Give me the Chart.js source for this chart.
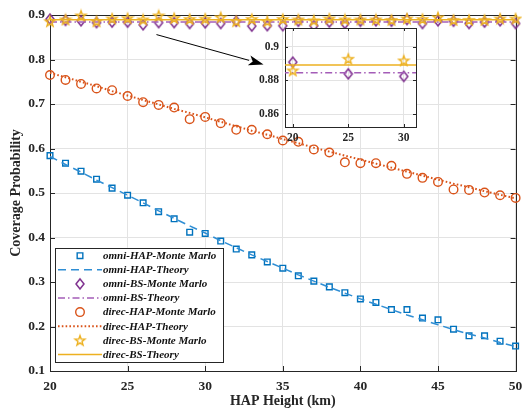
<!DOCTYPE html>
<html><head><meta charset="utf-8">
<script src="https://cdn.jsdelivr.net/npm/chart.js@4/dist/chart.umd.min.js"></script>
<style>
html,body{margin:0;padding:0;background:#fff;}
#wrap{position:relative;width:522px;height:410px;overflow:hidden;}
#main{position:absolute;left:0;top:0;}
#inset{position:absolute;left:250px;top:18px;}
</style></head><body>
<div id="wrap">
<canvas id="main" width="522" height="410"></canvas>
<canvas id="inset" width="175" height="128"></canvas>
</div>
<script>
// ---------- data ----------
const heights = [20,21,22,23,24,25,26,27,28,29,30,31,32,33,34,35,36,37,38,39,40,41,42,43,44,45,46,47,48,49,50];
const omniHapMC = [0.584,0.567,0.549,0.531,0.511,0.495,0.478,0.458,0.442,0.412,0.409,0.392,0.374,0.361,0.345,0.331,0.314,0.302,0.289,0.276,0.262,0.254,0.238,0.238,0.219,0.215,0.194,0.179,0.179,0.167,0.156];
const omniHapTh = [0.582,0.564,0.547,0.529,0.512,0.495,0.478,0.460,0.443,0.426,0.410,0.393,0.377,0.361,0.346,0.331,0.316,0.302,0.288,0.275,0.262,0.250,0.238,0.226,0.215,0.204,0.193,0.183,0.174,0.164,0.155];
const omniBsMC = [0.8908,0.888,0.887,0.883,0.884,0.8839,0.878,0.883,0.883,0.881,0.8824,0.881,0.886,0.875,0.876,0.876,0.886,0.876,0.884,0.881,0.886,0.887,0.886,0.890,0.881,0.887,0.886,0.881,0.884,0.887,0.881];
const omniBsTh = [0.8845,0.8845,0.8845,0.8845,0.8845,0.8845,0.8845,0.8845,0.8845,0.8845,0.8845,0.8845,0.8845,0.8845,0.8845,0.8845,0.8845,0.8845,0.8845,0.8845,0.8845,0.8845,0.8845,0.8845,0.8845,0.8845,0.8845,0.8845,0.8845,0.8845,0.8845];
const direcHapMC = [0.765,0.754,0.745,0.735,0.731,0.718,0.704,0.698,0.692,0.666,0.671,0.657,0.642,0.642,0.632,0.618,0.615,0.598,0.591,0.569,0.567,0.567,0.561,0.543,0.534,0.525,0.508,0.507,0.501,0.495,0.489];
const direcHapTh = [0.770,0.760,0.750,0.740,0.729,0.719,0.709,0.699,0.689,0.680,0.670,0.660,0.650,0.640,0.631,0.621,0.612,0.602,0.593,0.584,0.575,0.566,0.557,0.548,0.539,0.530,0.521,0.513,0.504,0.496,0.488];
const direcBsMC = [0.8859,0.890,0.899,0.886,0.892,0.8928,0.890,0.899,0.893,0.891,0.8918,0.895,0.886,0.891,0.886,0.891,0.890,0.888,0.892,0.890,0.890,0.890,0.889,0.892,0.891,0.895,0.889,0.889,0.889,0.892,0.892];
const direcBsTh = [0.8892,0.8892,0.8892,0.8892,0.8892,0.8892,0.8892,0.8892,0.8892,0.8892,0.8892,0.8892,0.8892,0.8892,0.8892,0.8892,0.8892,0.8892,0.8892,0.8892,0.8892,0.8892,0.8892,0.8892,0.8892,0.8892,0.8892,0.8892,0.8892,0.8892,0.8892];

const seriesLabels = ['omni-HAP-Monte Marlo','omni-HAP-Theory','omni-BS-Monte Marlo','omni-BS-Theory','direc-HAP-Monte Marlo','direc-HAP-Theory','direc-BS-Monte Marlo','direc-BS-Theory'];
const xTicks = [20,25,30,35,40,45,50];
const yTicks = [0.1,0.2,0.3,0.4,0.5,0.6,0.7,0.8,0.9];
const xTitle = 'HAP Height (km)';
const yTitle = 'Coverage Probability';

// inset (zoomed) data
const insetHeights = [20,25,30];
const insetOmniBsMC = [0.8908,0.8839,0.8824];
const insetDirecBsMC = [0.8859,0.8928,0.8918];
const insetLineHeights = [19,32];
const insetOmniBsTh = [0.8845,0.8845];
const insetDirecBsTh = [0.8892,0.8892];
const insetXTicks = [20,25,30];
const insetYTicks = [0.86,0.88,0.9];

// arrow annotation (data coords)
const arrowFrom = [26.86,0.856];
const arrowTo = [33.76,0.789];

// ---------- styles ----------
const FONT = "'Liberation Serif','Times New Roman',serif";
const AX = '#262626';
const GRID = '#e3e3e3';
const BLUE = '#0072BD', BLUE_L = '#2F8ED4';
const PURP = '#7E2F8E', PURP_L = '#A45DB8';
const ORNG = '#D95319';
const GOLD = '#EDB120';

function makeDiamond(color){
  const c=document.createElement('canvas'); c.width=12; c.height=14;
  const g=c.getContext('2d'); g.strokeStyle=color; g.lineWidth=1.5; g.lineJoin='miter';
  g.beginPath(); g.moveTo(6,2); g.lineTo(10,7); g.lineTo(6,12); g.lineTo(2,7); g.closePath(); g.stroke();
  return c;
}
function makeStar(color){
  const c=document.createElement('canvas'); c.width=14; c.height=14;
  const g=c.getContext('2d'); g.strokeStyle=color; g.lineWidth=1.4; g.lineJoin='miter';
  const cx=7, cy=7.5, R=5.2, r=2.1;
  g.beginPath();
  for(let i=0;i<10;i++){
    const a=-Math.PI/2+i*Math.PI/5, rr=(i%2===0)?R:r;
    const px=cx+rr*Math.cos(a), py=cy+rr*Math.sin(a);
    if(i===0) g.moveTo(px,py); else g.lineTo(px,py);
  }
  g.closePath(); g.stroke();
  return c;
}
const diamond = makeDiamond(PURP);
const star = makeStar(GOLD);

const pts = (xs,ys)=>xs.map((x,i)=>({x:x,y:ys[i]}));
function mcSet(label,xs,ys,color,style,radius,order){
  return {label,data:pts(xs,ys),showLine:false,borderColor:color,backgroundColor:'rgba(0,0,0,0)',
    pointStyle:style,pointRadius:radius,pointBorderWidth:1.4,pointBorderColor:color,pointBackgroundColor:'rgba(0,0,0,0)',
    clip:false,order,legendKind:'marker'};
}
function lineSet(label,xs,ys,color,dash,width,order){
  return {label,data:pts(xs,ys),showLine:true,borderColor:color,borderWidth:width,borderDash:dash,
    pointRadius:0,tension:0,clip:false,order,legendKind:'line',fill:false};
}

const mainDatasets = [
  mcSet(seriesLabels[0],heights,omniHapMC,BLUE,'rect',4.0,7),
  lineSet(seriesLabels[1],heights,omniHapTh,BLUE_L,[8,5],1.5,6),
  mcSet(seriesLabels[2],heights,omniBsMC,PURP,diamond,5,5),
  lineSet(seriesLabels[3],heights,omniBsTh,PURP_L,[7,3,1.5,3],1.5,4),
  mcSet(seriesLabels[4],heights,direcHapMC,ORNG,'circle',4.3,3),
  lineSet(seriesLabels[5],heights,direcHapTh,ORNG,[1.6,2.2],2,2),
  mcSet(seriesLabels[6],heights,direcBsMC,GOLD,star,5,1),
  lineSet(seriesLabels[7],heights,direcBsTh,GOLD,[],1.5,0),
];

function frameAndTicks(chart, tickLen, xt, yt){
  const {ctx, chartArea:a, scales} = chart;
  ctx.save();
  ctx.strokeStyle=AX; ctx.lineWidth=1;
  ctx.strokeRect(Math.round(a.left)+0.5, Math.round(a.top)+0.5, Math.round(a.right-a.left), Math.round(a.bottom-a.top));
  ctx.beginPath();
  xt.forEach(v=>{ const x=Math.round(scales.x.getPixelForValue(v))+0.5;
    ctx.moveTo(x,a.bottom); ctx.lineTo(x,a.bottom-tickLen); ctx.moveTo(x,a.top); ctx.lineTo(x,a.top+tickLen); });
  yt.forEach(v=>{ const y=Math.round(scales.y.getPixelForValue(v))+0.5;
    ctx.moveTo(a.left,y); ctx.lineTo(a.left+tickLen,y); ctx.moveTo(a.right,y); ctx.lineTo(a.right-tickLen,y); });
  ctx.stroke();
  ctx.restore();
}

const mainPlugin = {
  id:'mainDeco',
  beforeDatasetsDraw(chart){ frameAndTicks(chart,5,xTicks,yTicks); },
  afterDatasetsDraw(chart){
    const {ctx, chartArea:a, scales} = chart;
    // arrow
    const x1=scales.x.getPixelForValue(arrowFrom[0]), y1=scales.y.getPixelForValue(arrowFrom[1]);
    const x2=scales.x.getPixelForValue(arrowTo[0]), y2=scales.y.getPixelForValue(arrowTo[1]);
    const ang=Math.atan2(y2-y1,x2-x1), L=15, W=5;
    ctx.save();
    ctx.strokeStyle='#000'; ctx.fillStyle='#000'; ctx.lineWidth=1;
    ctx.beginPath(); ctx.moveTo(x1,y1); ctx.lineTo(x2-L*Math.cos(ang),y2-L*Math.sin(ang)); ctx.stroke();
    ctx.beginPath(); ctx.moveTo(x2,y2);
    ctx.lineTo(x2-L*Math.cos(ang)+W*Math.sin(ang), y2-L*Math.sin(ang)-W*Math.cos(ang));
    ctx.lineTo(x2-L*Math.cos(ang)+0.25*L*Math.cos(ang), y2-L*Math.sin(ang)+0.25*L*Math.sin(ang));
    ctx.lineTo(x2-L*Math.cos(ang)-W*Math.sin(ang), y2-L*Math.sin(ang)+W*Math.cos(ang));
    ctx.closePath(); ctx.fill();
    ctx.restore();
    // legend
    const lx=a.left+5, lw=168, rowH=14.1, n=chart.data.datasets.length;
    const lh=rowH*n+1.5, ly=a.bottom-9-lh;
    ctx.save();
    ctx.fillStyle='#fff'; ctx.fillRect(lx,ly,lw,lh);
    ctx.strokeStyle=AX; ctx.lineWidth=1; ctx.strokeRect(Math.round(lx)+0.5,Math.round(ly)+0.5,lw,Math.round(lh));
    ctx.font="bold italic 11px "+FONT; ctx.textBaseline='middle'; ctx.textAlign='left';
    chart.data.datasets.forEach((ds,i)=>{
      const cy=ly+8+i*rowH;
      if(ds.legendKind==='line'){
        ctx.save(); ctx.strokeStyle=ds.borderColor; ctx.lineWidth=ds.borderWidth; ctx.setLineDash(ds.borderDash||[]);
        ctx.beginPath(); ctx.moveTo(lx+3,cy); ctx.lineTo(lx+47,cy); ctx.stroke(); ctx.restore();
      } else {
        ctx.save(); ctx.strokeStyle=ds.pointBorderColor; ctx.fillStyle='rgba(0,0,0,0)'; ctx.lineWidth=ds.pointBorderWidth;
        Chart.helpers.drawPoint(ctx,{pointStyle:ds.pointStyle,radius:ds.pointRadius,rotation:0,borderWidth:ds.pointBorderWidth},lx+25,cy);
        ctx.restore();
      }
      ctx.fillStyle='#111'; ctx.fillText(ds.label,lx+48,cy+0.5);
    });
    ctx.restore();
  }
};

new Chart(document.getElementById('main'),{
  type:'scatter',
  data:{datasets:mainDatasets},
  options:{
    responsive:false, animation:false, events:[],
    layout:{padding:{left:0,right:5,top:15,bottom:0}},
    plugins:{legend:{display:false},tooltip:{enabled:false}},
    scales:{
      x:{type:'linear',min:20,max:50,
        afterBuildTicks:s=>{s.ticks=xTicks.map(v=>({value:v}));},
        afterFit:s=>{s.height=39; s.paddingLeft=0; s.paddingRight=0;},
        grid:{color:GRID,drawTicks:false,lineWidth:1},
        border:{display:false},
        ticks:{font:{family:FONT,size:13.5,weight:'bold'},color:AX,padding:7,maxRotation:0,callback:v=>String(v)},
        title:{display:true,text:xTitle,font:{family:FONT,size:14,weight:'bold'},color:AX,padding:{top:0,bottom:0}}
      },
      y:{type:'linear',min:0.1,max:0.9,
        afterBuildTicks:s=>{s.ticks=yTicks.map(v=>({value:v}));},
        afterFit:s=>{s.width=50; s.paddingTop=0; s.paddingBottom=0;},
        grid:{color:GRID,drawTicks:false,lineWidth:1},
        border:{display:false},
        ticks:{font:{family:FONT,size:13.5,weight:'bold'},color:AX,padding:5,callback:v=>v.toFixed(1)},
        title:{display:true,text:yTitle,font:{family:FONT,size:14,weight:'bold'},color:AX,padding:{top:8,bottom:0}}
      }
    }
  },
  plugins:[mainPlugin]
});

// ---------- inset ----------
const insetPlugin = {
  id:'insetDeco',
  beforeDraw(chart){
    const {ctx, chartArea:a}=chart;
    ctx.save(); ctx.fillStyle='#fff'; ctx.fillRect(a.left,a.top,a.right-a.left,a.bottom-a.top); ctx.restore();
  },
  beforeDatasetsDraw(chart){ frameAndTicks(chart,3,insetXTicks,insetYTicks); }
};
const insetDatasets = [
  mcSet(seriesLabels[2],insetHeights,insetOmniBsMC,PURP,diamond,5,3),
  lineSet(seriesLabels[3],insetLineHeights,insetOmniBsTh,PURP_L,[7,3,1.5,3],1.5,2),
  mcSet(seriesLabels[6],insetHeights,insetDirecBsMC,GOLD,star,5,1),
  lineSet(seriesLabels[7],insetLineHeights,insetDirecBsTh,GOLD,[],1.5,0),
];
insetDatasets.forEach(d=>{ if(d.legendKind==='line') d.clip=true; });
new Chart(document.getElementById('inset'),{
  type:'scatter',
  data:{datasets:insetDatasets},
  options:{
    responsive:false, animation:false, events:[],
    layout:{padding:{left:0,right:9,top:10,bottom:0}},
    plugins:{legend:{display:false},tooltip:{enabled:false}},
    scales:{
      x:{type:'linear',min:19.3,max:31.1,
        afterBuildTicks:s=>{s.ticks=insetXTicks.map(v=>({value:v}));},
        afterFit:s=>{s.height=19; s.paddingLeft=0; s.paddingRight=0;},
        grid:{color:GRID,drawTicks:false},
        border:{display:false},
        ticks:{font:{family:FONT,size:11.5,weight:'bold'},color:AX,padding:4,maxRotation:0,callback:v=>String(v)}
      },
      y:{type:'linear',min:0.8525,max:0.911,
        afterBuildTicks:s=>{s.ticks=insetYTicks.map(v=>({value:v}));},
        afterFit:s=>{s.width=35; s.paddingTop=0; s.paddingBottom=0;},
        grid:{color:GRID,drawTicks:false},
        border:{display:false},
        ticks:{font:{family:FONT,size:11.5,weight:'bold'},color:AX,padding:6,callback:v=>String(+v.toFixed(2))}
      }
    }
  },
  plugins:[insetPlugin]
});
</script>
</body></html>
